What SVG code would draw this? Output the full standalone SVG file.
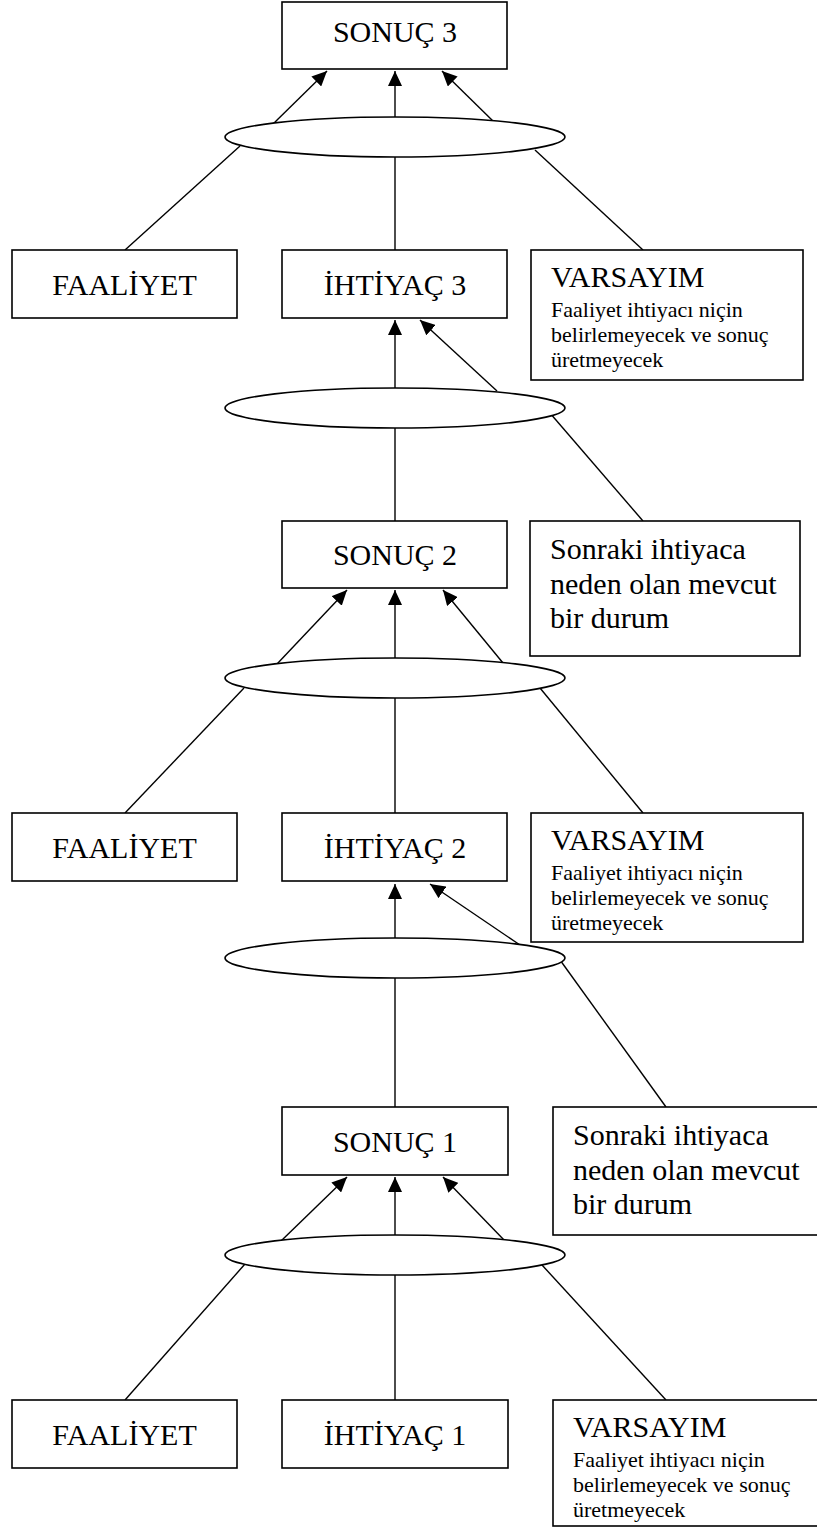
<svg xmlns="http://www.w3.org/2000/svg" width="817" height="1539" viewBox="0 0 817 1539">
  <defs>
    <marker id="arrow" markerUnits="userSpaceOnUse" markerWidth="15" markerHeight="14" refX="15" refY="7" orient="auto">
      <path d="M0,0 L15,7 L0,14 z" fill="#000"/>
    </marker>
    <style>
      .box { fill: #fff; stroke: #000; stroke-width: 1.6; }
      .oval { fill: #fff; stroke: #000; stroke-width: 1.6; }
      .link { stroke: #000; stroke-width: 1.4; fill: none; }
      .arr { marker-end: url(#arrow); }
      .lbl { font-family: "Liberation Serif", "Times New Roman", serif; font-size: 30px; fill: #000; }
      .mid { text-anchor: middle; }
      .note { font-family: "Liberation Serif", "Times New Roman", serif; font-size: 30px; fill: #000; }
      .small { font-family: "Liberation Serif", "Times New Roman", serif; font-size: 22px; fill: #000; }
    </style>
  </defs>
  <rect width="817" height="1539" fill="#fff"/>

  <!-- connectors -->
  <g id="connectors">
    <!-- level 3 -->
    <line class="link arr" x1="273" y1="124" x2="327" y2="71"/>
    <line class="link arr" x1="395" y1="118" x2="395" y2="71"/>
    <line class="link arr" x1="495" y1="123" x2="442" y2="71"/>
    <line class="link" x1="125" y1="250" x2="240" y2="146"/>
    <line class="link" x1="395" y1="250" x2="395" y2="156"/>
    <line class="link" x1="643" y1="250" x2="535" y2="150"/>
    <line class="link arr" x1="395" y1="389" x2="395" y2="320"/>
    <line class="link arr" x1="497" y1="391" x2="420" y2="320"/>
    <line class="link" x1="643" y1="521" x2="537" y2="398"/>
    <line class="link" x1="395" y1="521" x2="395" y2="427"/>
    <!-- level 2 -->
    <line class="link arr" x1="277" y1="664" x2="347" y2="590"/>
    <line class="link arr" x1="395" y1="659" x2="395" y2="590"/>
    <line class="link arr" x1="503" y1="663" x2="443" y2="590"/>
    <line class="link" x1="125" y1="813" x2="244" y2="688"/>
    <line class="link" x1="395" y1="813" x2="395" y2="697"/>
    <line class="link" x1="643" y1="813" x2="540" y2="688"/>
    <line class="link arr" x1="395" y1="939" x2="395" y2="884"/>
    <line class="link arr" x1="520" y1="945" x2="430" y2="884"/>
    <line class="link" x1="666" y1="1107" x2="555" y2="953"/>
    <line class="link" x1="395" y1="1107" x2="395" y2="977"/>
    <!-- level 1 -->
    <line class="link arr" x1="281" y1="1241" x2="347" y2="1177"/>
    <line class="link arr" x1="395" y1="1236" x2="395" y2="1177"/>
    <line class="link arr" x1="505" y1="1241" x2="443" y2="1177"/>
    <line class="link" x1="125" y1="1400" x2="245" y2="1264"/>
    <line class="link" x1="395" y1="1400" x2="395" y2="1274"/>
    <line class="link" x1="666" y1="1400" x2="542" y2="1265"/>
  </g>

  <!-- top level -->
  <g id="sonuc3">
    <rect class="box" x="282" y="2" width="225" height="67"/>
    <text class="lbl mid" x="395" y="42">SONUÇ 3</text>
  </g>
  <g id="join3">
    <ellipse class="oval" cx="395" cy="137" rx="170" ry="20"/>
  </g>
  <g id="faaliyet3">
    <rect class="box" x="12" y="250" width="225" height="68"/>
    <text class="lbl mid" x="124.5" y="295">FAALİYET</text>
  </g>
  <g id="ihtiyac3">
    <rect class="box" x="282" y="250" width="225" height="68"/>
    <text class="lbl mid" x="395" y="295">İHTİYAÇ 3</text>
  </g>
  <g id="varsayim3">
    <rect class="box" x="531" y="250" width="272" height="130"/>
    <text class="lbl" x="551" y="287">VARSAYIM</text>
    <text class="small" x="551" y="317">Faaliyet ihtiyacı niçin</text>
    <text class="small" x="551" y="342">belirlemeyecek ve sonuç</text>
    <text class="small" x="551" y="367">üretmeyecek</text>
  </g>
  <g id="join2">
    <ellipse class="oval" cx="395" cy="408" rx="170" ry="20"/>
  </g>

  <!-- middle level -->
  <g id="sonuc2">
    <rect class="box" x="282" y="521" width="225" height="67"/>
    <text class="lbl mid" x="395" y="565">SONUÇ 2</text>
  </g>
  <g id="durum2">
    <rect class="box" x="530" y="521" width="270" height="135"/>
    <text class="note" x="550" y="559">Sonraki ihtiyaca</text>
    <text class="note" x="550" y="594">neden olan mevcut</text>
    <text class="note" x="550" y="628">bir durum</text>
  </g>
  <g id="join1b">
    <ellipse class="oval" cx="395" cy="678" rx="170" ry="20"/>
  </g>
  <g id="faaliyet2">
    <rect class="box" x="12" y="813" width="225" height="68"/>
    <text class="lbl mid" x="124.5" y="858">FAALİYET</text>
  </g>
  <g id="ihtiyac2">
    <rect class="box" x="282" y="813" width="225" height="68"/>
    <text class="lbl mid" x="395" y="858">İHTİYAÇ 2</text>
  </g>
  <g id="varsayim2">
    <rect class="box" x="531" y="813" width="272" height="129"/>
    <text class="lbl" x="551" y="850">VARSAYIM</text>
    <text class="small" x="551" y="880">Faaliyet ihtiyacı niçin</text>
    <text class="small" x="551" y="905">belirlemeyecek ve sonuç</text>
    <text class="small" x="551" y="930">üretmeyecek</text>
  </g>
  <g id="join1a">
    <ellipse class="oval" cx="395" cy="958" rx="170" ry="20"/>
  </g>

  <!-- bottom level -->
  <g id="sonuc1">
    <rect class="box" x="282" y="1107" width="226" height="68"/>
    <text class="lbl mid" x="395" y="1152">SONUÇ 1</text>
  </g>
  <g id="durum1">
    <rect class="box" x="553" y="1107" width="270" height="128"/>
    <text class="note" x="573" y="1145">Sonraki ihtiyaca</text>
    <text class="note" x="573" y="1180">neden olan mevcut</text>
    <text class="note" x="573" y="1214">bir durum</text>
  </g>
  <g id="join0">
    <ellipse class="oval" cx="395" cy="1255" rx="170" ry="20"/>
  </g>
  <g id="faaliyet1">
    <rect class="box" x="12" y="1400" width="225" height="68"/>
    <text class="lbl mid" x="124.5" y="1445">FAALİYET</text>
  </g>
  <g id="ihtiyac1">
    <rect class="box" x="282" y="1400" width="226" height="68"/>
    <text class="lbl mid" x="395" y="1445">İHTİYAÇ 1</text>
  </g>
  <g id="varsayim1">
    <rect class="box" x="553" y="1400" width="270" height="126"/>
    <text class="lbl" x="573" y="1437">VARSAYIM</text>
    <text class="small" x="573" y="1467">Faaliyet ihtiyacı niçin</text>
    <text class="small" x="573" y="1492">belirlemeyecek ve sonuç</text>
    <text class="small" x="573" y="1517">üretmeyecek</text>
  </g>
</svg>
